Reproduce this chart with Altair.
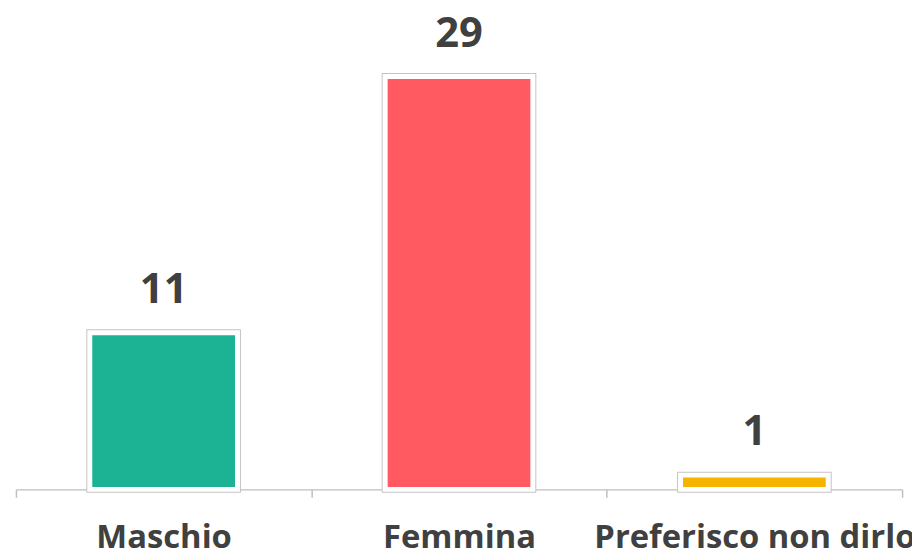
import altair as alt
import pandas as pd

categories = ["Maschio", "Femmina", "Preferisco non dirlo"]
values = [11, 29, 1]
colors = ["#1BB394", "#FF5A62", "#F5B400"]

df = pd.DataFrame({"cat": categories, "val": values, "col": colors})

x = alt.X("cat:N", sort=categories, title=None,
          scale=alt.Scale(paddingInner=0, paddingOuter=0),
          axis=alt.Axis(labelAngle=0, labelFont="Open Sans", labelFontWeight="bold",
                        labelFontSize=33, labelColor="#404040", labelBaseline="alphabetic",
                        labelPadding=51, labelOverlap=False, labelBound=False, labelFlush=False,
                        labelLimit=0,
                        tickBand="extent", tickSize=8, tickColor="#BFBFBF", tickWidth=1.5,
                        domainColor="#BFBFBF", domainWidth=1.5))
y = alt.Y("val:Q", title=None, scale=alt.Scale(domain=[0, 33.67], nice=False),
          axis=None)

base = alt.Chart(df).encode(x=x, y=y)

outer = base.mark_bar(stroke="#C4C4C4", strokeWidth=7, width={"band": 0.5}).encode(
    color=alt.Color("col:N", scale=None))
inner = base.mark_bar(stroke="white", strokeWidth=5, width={"band": 0.5}).encode(
    color=alt.Color("col:N", scale=None))
labels = base.mark_text(font="Open Sans", fontWeight="bold", fontSize=42,
                        color="#404040", baseline="alphabetic", dy=-30).encode(
    text="val:Q")

chart = alt.layer(outer, inner, labels).properties(
    width=893, height=483,
    autosize=alt.AutoSizeParams(type="none"),
    padding={"left": 8, "top": 0, "right": 10, "bottom": 60},
).configure_view(stroke=None)

chart.save("out.html", embed_options={"renderer": "svg", "actions": False})
